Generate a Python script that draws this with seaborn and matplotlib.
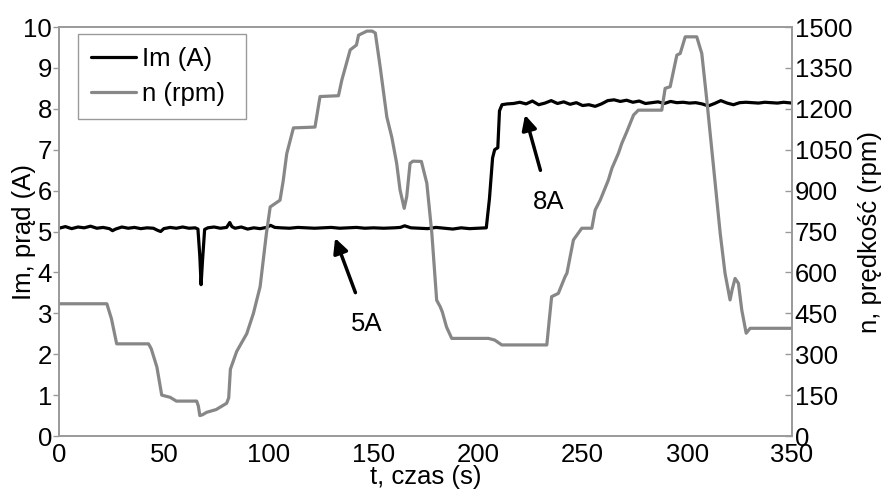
import numpy as np
import pandas as pd
import seaborn as sns
import matplotlib.pyplot as plt

# motor current Im (A)
im_t = [0, 3, 6, 9, 12, 15, 18, 21, 24, 25.5, 27, 30, 33, 36, 39, 42, 45, 47, 48.5, 50,
        53, 56, 59, 62, 65, 66.3, 67.2, 67.8, 68.5, 69.5, 71, 74, 77, 80, 81.5, 82.5,
        84, 87, 90, 93, 96, 99, 101, 103, 106, 110, 114, 118, 122, 126, 130, 134, 138,
        142, 146, 150, 155, 160, 163, 165, 168, 172, 176, 180, 184, 188, 192, 196, 200,
        204, 205.5, 207, 208, 209.5, 210.3, 211.5, 214, 217, 220, 223, 226, 229, 232,
        235, 238, 241, 244, 247, 250, 253, 256, 259, 262, 265, 268, 271, 274, 277, 280,
        283, 286, 289, 292, 295, 298, 301, 304, 307, 310, 313, 316, 319, 322, 325, 328,
        331, 334, 337, 340, 343, 346, 350]
im_a = [5.08, 5.12, 5.07, 5.11, 5.09, 5.13, 5.08, 5.10, 5.07, 5.02, 5.06, 5.11, 5.08,
        5.10, 5.07, 5.09, 5.08, 5.03, 5.00, 5.07, 5.10, 5.08, 5.11, 5.08, 5.09, 5.06,
        4.40, 3.70, 4.30, 5.05, 5.09, 5.11, 5.08, 5.10, 5.22, 5.12, 5.08, 5.11, 5.06,
        5.09, 5.07, 5.10, 5.15, 5.10, 5.09, 5.08, 5.10, 5.09, 5.08, 5.09, 5.10, 5.08,
        5.09, 5.10, 5.08, 5.09, 5.08, 5.09, 5.10, 5.14, 5.09, 5.08, 5.07, 5.10, 5.08,
        5.06, 5.09, 5.07, 5.08, 5.09, 5.80, 6.80, 7.00, 7.05, 7.95, 8.10, 8.12, 8.13,
        8.16, 8.12, 8.19, 8.10, 8.14, 8.20, 8.13, 8.17, 8.11, 8.15, 8.08, 8.10, 8.06,
        8.12, 8.20, 8.22, 8.18, 8.21, 8.16, 8.19, 8.13, 8.15, 8.17, 8.13, 8.18, 8.15,
        8.16, 8.14, 8.15, 8.12, 8.07, 8.13, 8.20, 8.14, 8.10, 8.15, 8.16, 8.15, 8.14,
        8.16, 8.15, 8.14, 8.16, 8.14]

# rotational speed n (rpm)
n_t = [0, 22.8, 25, 27.5, 42.7, 44, 46.7, 49, 53, 56, 65.7, 66.5, 67.2, 68.5, 70.5, 75,
       80, 81, 81.8, 84.8, 87, 89.6, 92.8, 96, 99, 100.8, 105.5, 107, 108.7, 111.9,
       122.2, 124.6, 133.4, 135, 139, 142, 143, 147, 149.5, 151, 153.3, 156.5, 158.9,
       161.2, 162.8, 164.8, 166, 167.6, 169, 173, 175.6, 178, 180.3, 182, 183, 185,
       187.5, 205, 208, 211.4, 232.9, 234, 235.2, 238.4, 241.6, 242.5, 245.6, 249.6,
       254.4, 256, 258.4, 262.3, 264, 267.1, 268.7, 271.1, 274.3, 276.6, 287.8, 289.4,
       291.8, 295, 296.6, 299, 304.5, 306.9, 309.3, 312.5, 315.7, 318, 320.4, 321.5,
       322.8, 324.4, 326, 328.1, 330, 350]
n_rpm = [485, 485, 430, 338, 338, 320, 253, 150, 142, 128, 128, 110, 75, 78, 87, 97,
         120, 140, 245, 310, 340, 375, 450, 548, 743, 840, 865, 935, 1035, 1130, 1133,
         1245, 1248, 1305, 1416, 1434, 1470, 1485, 1485, 1478, 1355, 1170, 1095, 1000,
         903, 835, 878, 1000, 1008, 1007, 927, 743, 498, 474, 455, 400, 358, 358, 352,
         334, 334, 420, 511, 523, 584, 597, 719, 762, 762, 829, 865, 939, 982, 1037,
         1073, 1116, 1177, 1195, 1195, 1275, 1281, 1397, 1403, 1464, 1464, 1403, 1232,
         988, 743, 597, 499, 540, 578, 560, 462, 377, 395, 395]

im_df = pd.DataFrame({'t': im_t, 'Im': im_a})
n_df = pd.DataFrame({'t': n_t, 'n': n_rpm})

sns.set_style('white')
plt.rcParams['font.family'] = ['Liberation Sans', 'DejaVu Sans']
plt.rcParams['font.size'] = 18.5
plt.rcParams['text.color'] = 'black'
plt.rcParams['axes.labelcolor'] = 'black'
plt.rcParams['xtick.color'] = 'black'
plt.rcParams['ytick.color'] = 'black'
plt.rcParams['axes.edgecolor'] = '#9a9a9a'
plt.rcParams['axes.linewidth'] = 1.2

fs = 18.5
fig, ax = plt.subplots(figsize=(8.82, 4.91), dpi=100)
fig.subplots_adjust(left=0.067, right=0.898, bottom=0.112, top=0.945)
ax2 = ax.twinx()

sns.lineplot(data=im_df, x='t', y='Im', ax=ax, color='black', lw=2.3,
             estimator=None, sort=False)
sns.lineplot(data=n_df, x='t', y='n', ax=ax2, color='#878787', lw=2.3,
             estimator=None, sort=False)

ax.set_xlim(0, 350)
ax.set_ylim(0, 10)
ax2.set_ylim(0, 1500)
ax.set_xticks(range(0, 351, 50))
ax.set_yticks(range(0, 11))
ax2.set_yticks(range(0, 1501, 150))

ax.tick_params(axis='x', direction='in', length=5, width=1, color='#9a9a9a',
               labelcolor='black', labelsize=fs, pad=5)
ax.tick_params(axis='y', direction='out', length=4, width=1, color='#9a9a9a',
               labelcolor='black', labelsize=fs, pad=1)
ax2.tick_params(axis='y', direction='in', length=5, width=1, color='#9a9a9a',
                labelcolor='black', labelsize=fs, pad=2)

ax.set_xlabel('t, czas (s)', fontsize=fs)
ax.set_ylabel('Im, prąd (A)', fontsize=fs)
ax2.set_ylabel('n, prędkość (rpm)', fontsize=fs)
ax.xaxis.label.set_verticalalignment('baseline')
ax.xaxis.set_label_coords(0.5, -0.118)
ax.yaxis.set_label_coords(-0.031, 0.5)
ax2.yaxis.set_label_coords(1.0895, 0.5)

for a in (ax, ax2):
    for s in a.spines.values():
        s.set_visible(True)
        s.set_color('#9a9a9a')

ax.annotate('5A', xy=(131.8, 4.84), xytext=(147, 2.75), ha='center', va='center',
            fontsize=fs,
            arrowprops=dict(arrowstyle='-|>', color='black', lw=2.5,
                            mutation_scale=22, shrinkA=12, shrinkB=0))
ax.annotate('8A', xy=(222.5, 7.85), xytext=(234, 5.73), ha='center', va='center',
            fontsize=fs,
            arrowprops=dict(arrowstyle='-|>', color='black', lw=2.5,
                            mutation_scale=22, shrinkA=12, shrinkB=0))

handles = ax.get_lines()[:1] + ax2.get_lines()[:1]
leg = ax2.legend(handles, ['Im (A)', 'n (rpm)'], loc='upper left', mode='expand',
                 bbox_to_anchor=(0.026, 0.983 - 0.203, 0.229, 0.203),
                 borderaxespad=0, fontsize=fs, frameon=True, fancybox=False,
                 framealpha=1, edgecolor='#9a9a9a', handlelength=1.75,
                 handletextpad=0.25, borderpad=0.5, labelspacing=0.45)
leg.get_frame().set_linewidth(1.0)

fig.savefig('out.png', dpi=100)
